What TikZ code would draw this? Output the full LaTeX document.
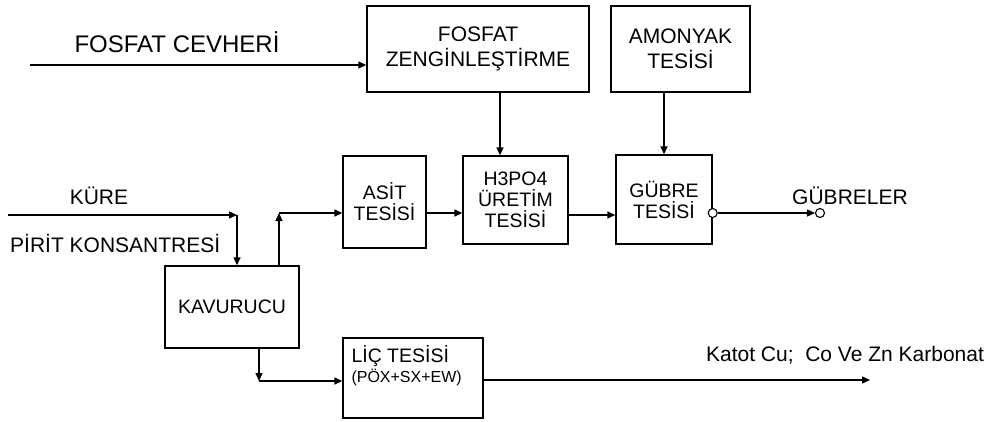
\documentclass[tikz,border=0pt]{standalone}
\usepackage{fontspec}
\setmainfont{Liberation Sans}
\usetikzlibrary{arrows.meta}

\begin{document}
\begin{tikzpicture}[
  x=1pt,y=-1pt,
  every node/.style={font=\fontsize{21}{25}\selectfont},
  box/.style={draw,line width=1.4pt,align=center,inner sep=0pt},
  mid/.style={box,font=\fontsize{19.5}{21}\selectfont},
  ln/.style={line width=1.4pt},
  arr/.style={ln,-{Triangle[length=8pt,width=7pt]}},
  port/.style={circle,draw,line width=1.1pt,fill=white,minimum size=9pt,inner sep=0pt}]

\useasboundingbox (0,0) rectangle (992,421);

% ---- top row ----
\node[box,minimum width=222pt,minimum height=86pt] (fz) at (478,49) {FOSFAT\\ZENGİNLEŞTİRME};
\node[box,minimum width=139pt,minimum height=86pt] (am) at (680.5,49) {AMONYAK\\TESİSİ};
\node[font=\fontsize{24}{28}\selectfont] (tore) at (177,42) {FOSFAT CEVHERİ};

% ---- middle row ----
\node[mid,minimum width=83pt,minimum height=92pt]  (as) at (384.5,202) {ASİT\\TESİSİ};
\node[mid,minimum width=105pt,minimum height=88pt] (h3) at (515.5,200) {H3PO4\\ÜRETİM\\TESİSİ};
\node[mid,minimum width=96pt,minimum height=89pt]  (gb) at (664,199.5) {GÜBRE\\TESİSİ};
\node (tkure) at (99,196) {KÜRE};
\node[anchor=west,inner sep=0pt] (tpirit) at (10,243) {PİRİT KONSANTRESİ};
\node (tgub) at (850,196) {GÜBRELER};

% ---- bottom row ----
\node[mid,minimum width=134pt,minimum height=82pt] (kv) at (232,307) {KAVURUCU};
\node[box,minimum width=140pt,minimum height=80pt] (lc) at (413,378) {};
\node[anchor=north west,align=left,inner sep=0pt,font=\fontsize{19.5}{20}\selectfont] (tlc)
  at ([xshift=9pt,yshift=-8pt]lc.north west) {LİÇ TESİSİ\\{\fontsize{16}{18}\selectfont(PÖX+SX+EW)}};
\node (tkat) at (845,355) {Katot Cu;~ Co Ve Zn Karbonat};

% ---- connectors ----
\coordinate (ore) at (30,65);
\coordinate (pa) at (500,0);
\coordinate (ya) at (0,213);
\coordinate (yb) at (0,215);
\coordinate (kj) at (237,215);
\coordinate (kt) at (279,213);
\coordinate (kb) at (259,381);
\coordinate (out) at (870,380);

\draw[arr] (ore) -- (ore -| fz.west);
\draw[arr] (fz.south -| pa) -- (h3.north -| pa);
\draw[arr] (am.south -| gb.north) -- (gb.north);
\draw[arr] (as.east |- ya) -- (h3.west |- ya);
\draw[arr] (h3.east |- yb) -- (gb.west |- yb);
\node[port] (go) at (gb.east |- ya) {};
\node[port] (gp) at (820,213) {};
\draw[arr] (go) -- (gp);

\draw[arr] (8,215) -- (kj);
\draw[arr] (kj) -- (kj |- kv.north);
\draw[arr] (kt |- kv.north) -- (kt);
\draw[arr] (kt) -- (kt -| as.west);
\draw[arr] (kb |- kv.south) -- (kb);
\draw[arr] (kb) -- (kb -| lc.west);
\draw[arr] (lc.east |- out) -- (out);
\end{tikzpicture}
\end{document}
